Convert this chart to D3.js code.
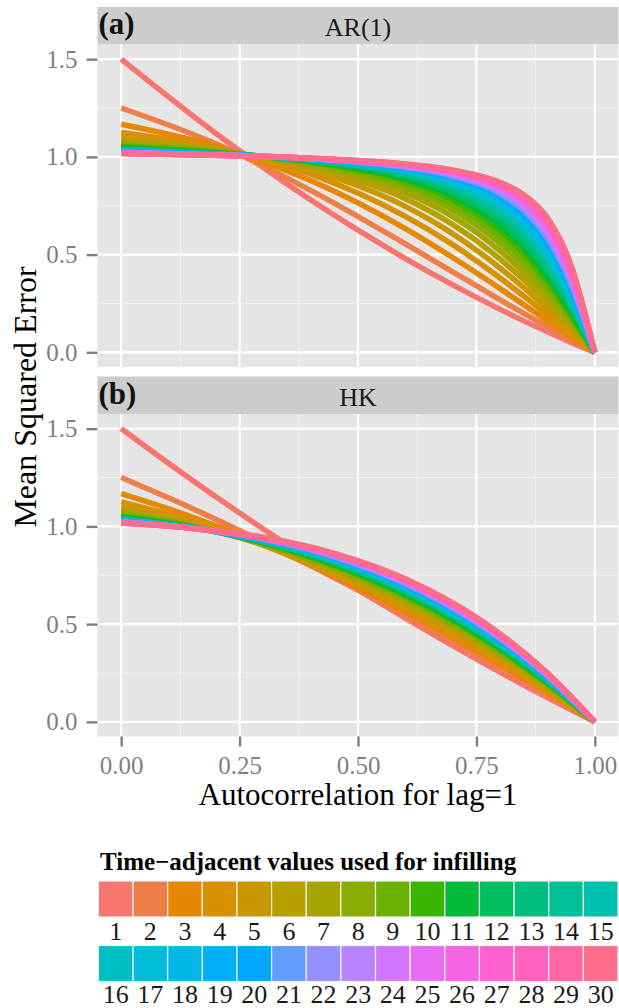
<!DOCTYPE html>
<html>
<head>
<meta charset="utf-8">
<script src="https://cdn.jsdelivr.net/npm/d3@7"></script>
<style>
  body { margin: 0; background: #fff; }
  text { font-family: "Liberation Serif", "Times New Roman", serif; }
</style>
</head>
<body>
<script>
// number of time-adjacent values used for infilling (one line each)
const lagCounts = [1, 2, 3, 4, 5, 6, 7, 8, 9, 10, 11, 12, 13, 14, 15,
  16, 17, 18, 19, 20, 21, 22, 23, 24, 25, 26, 27, 28, 29, 30];

// MSE read at lag-1 autocorrelation = 0 and = 1 (same in both panels)
const mseAt0 = [1.5, 1.25, 1.167, 1.125, 1.1, 1.083, 1.071, 1.063, 1.056, 1.05,
  1.045, 1.042, 1.038, 1.036, 1.033, 1.031, 1.029, 1.028, 1.026, 1.025,
  1.024, 1.023, 1.022, 1.021, 1.02, 1.019, 1.019, 1.018, 1.017, 1.017];
const mseAt1 = [0, 0, 0, 0, 0, 0, 0, 0, 0, 0, 0, 0, 0, 0, 0,
  0, 0, 0, 0, 0, 0, 0, 0, 0, 0, 0, 0, 0, 0, 0];

// (a) AR(1)
const arX = [0, 0.2, 0.4, 0.6, 0.7, 0.8, 0.85, 0.9, 0.95, 1];
const arAt020 = [1.120, 1.067, 1.054, 1.045, 1.039, 1.034, 1.030, 1.027, 1.024, 1.022,
  1.020, 1.019, 1.018, 1.016, 1.015, 1.015, 1.014, 1.013, 1.012, 1.012,
  1.011, 1.011, 1.010, 1.010, 1.010, 1.009, 1.009, 1.009, 1.008, 1.008];
const arAt040 = [0.780, 0.829, 0.879, 0.912, 0.934, 0.949, 0.958, 0.965, 0.971, 0.974,
  0.978, 0.980, 0.982, 0.984, 0.985, 0.986, 0.987, 0.988, 0.989, 0.989,
  0.990, 0.991, 0.991, 0.992, 0.992, 0.992, 0.993, 0.993, 0.993, 0.993];
const arAt060 = [0.480, 0.555, 0.633, 0.696, 0.747, 0.786, 0.816, 0.841, 0.860, 0.876,
  0.888, 0.899, 0.908, 0.915, 0.922, 0.927, 0.932, 0.936, 0.940, 0.943,
  0.946, 0.949, 0.952, 0.954, 0.956, 0.958, 0.959, 0.961, 0.962, 0.964];
const arAt070 = [0.345, 0.412, 0.485, 0.551, 0.607, 0.654, 0.694, 0.728, 0.756, 0.780,
  0.800, 0.818, 0.833, 0.846, 0.857, 0.867, 0.875, 0.883, 0.890, 0.896,
  0.901, 0.906, 0.911, 0.915, 0.919, 0.922, 0.925, 0.928, 0.931, 0.933];
const arAt080 = [0.220, 0.269, 0.326, 0.380, 0.431, 0.477, 0.519, 0.557, 0.591, 0.621,
  0.648, 0.673, 0.695, 0.715, 0.733, 0.749, 0.764, 0.777, 0.789, 0.800,
  0.810, 0.819, 0.827, 0.835, 0.842, 0.849, 0.855, 0.860, 0.865, 0.870];
const arAt085 = [0.161, 0.199, 0.244, 0.288, 0.331, 0.371, 0.408, 0.444, 0.476, 0.507,
  0.535, 0.561, 0.585, 0.607, 0.628, 0.647, 0.664, 0.681, 0.696, 0.710,
  0.723, 0.735, 0.746, 0.757, 0.767, 0.776, 0.784, 0.792, 0.800, 0.807];
const arAt090 = [0.105, 0.131, 0.161, 0.192, 0.223, 0.253, 0.282, 0.310, 0.337, 0.363,
  0.388, 0.412, 0.434, 0.456, 0.476, 0.496, 0.514, 0.532, 0.549, 0.565,
  0.580, 0.595, 0.608, 0.621, 0.634, 0.646, 0.657, 0.668, 0.678, 0.688];
const arAt095 = [0.051, 0.064, 0.079, 0.095, 0.112, 0.128, 0.144, 0.160, 0.176, 0.191,
  0.206, 0.221, 0.236, 0.251, 0.265, 0.279, 0.293, 0.306, 0.319, 0.332,
  0.345, 0.357, 0.370, 0.381, 0.393, 0.404, 0.416, 0.426, 0.437, 0.447];

// (b) HK
const hkX = [0, 0.15, 0.3, 0.45, 0.6, 0.75, 0.9, 1];
const hkAt015 = [1.236, 1.092, 1.048, 1.027, 1.016, 1.009, 1.004, 1.001, 0.998, 0.997,
  0.996, 0.995, 0.994, 0.993, 0.993, 0.992, 0.992, 0.992, 0.992, 0.992,
  0.991, 0.991, 0.991, 0.991, 0.991, 0.991, 0.991, 0.991, 0.991, 0.991];
const hkAt030 = [0.987, 0.920, 0.907, 0.904, 0.905, 0.907, 0.909, 0.911, 0.914, 0.916,
  0.918, 0.921, 0.923, 0.924, 0.926, 0.928, 0.929, 0.931, 0.932, 0.934,
  0.935, 0.936, 0.937, 0.938, 0.939, 0.940, 0.941, 0.942, 0.943, 0.944];
const hkAt045 = [0.752, 0.737, 0.745, 0.755, 0.765, 0.774, 0.782, 0.790, 0.796, 0.802,
  0.808, 0.812, 0.817, 0.821, 0.825, 0.829, 0.832, 0.835, 0.838, 0.841,
  0.843, 0.846, 0.848, 0.850, 0.853, 0.855, 0.857, 0.858, 0.860, 0.862];
const hkAt060 = [0.530, 0.544, 0.564, 0.581, 0.597, 0.610, 0.621, 0.631, 0.640, 0.648,
  0.656, 0.663, 0.669, 0.675, 0.680, 0.685, 0.689, 0.694, 0.698, 0.702,
  0.705, 0.709, 0.712, 0.715, 0.718, 0.721, 0.724, 0.727, 0.729, 0.732];
const hkAt075 = [0.321, 0.344, 0.365, 0.383, 0.398, 0.411, 0.422, 0.432, 0.441, 0.449,
  0.456, 0.463, 0.469, 0.475, 0.481, 0.486, 0.490, 0.495, 0.499, 0.503,
  0.507, 0.511, 0.514, 0.517, 0.521, 0.524, 0.527, 0.529, 0.532, 0.535];
const hkAt090 = [0.124, 0.139, 0.151, 0.161, 0.169, 0.176, 0.183, 0.189, 0.194, 0.198,
  0.203, 0.207, 0.210, 0.214, 0.217, 0.220, 0.223, 0.226, 0.228, 0.231,
  0.233, 0.235, 0.237, 0.239, 0.241, 0.243, 0.245, 0.247, 0.249, 0.250];

const xTicks = [0, 0.25, 0.5, 0.75, 1];
const yTicks = [0, 0.5, 1, 1.5];

const arCols = [mseAt0, arAt020, arAt040, arAt060, arAt070, arAt080, arAt085, arAt090, arAt095, mseAt1];
const hkCols = [mseAt0, hkAt015, hkAt030, hkAt045, hkAt060, hkAt075, hkAt090, mseAt1];

// ggplot-like hue palette (polar Luv, c = 100, l = 65)
function hueColor(h) {
  const L = 65, C = 100, rad = h * Math.PI / 180;
  const U = C * Math.cos(rad), V = C * Math.sin(rad);
  const un = 0.1978398, vn = 0.4683363;
  const Y = Math.pow((L + 16) / 116, 3);
  const u = U / (13 * L) + un, v = V / (13 * L) + vn;
  const X = 9 * Y * u / (4 * v);
  const Z = Y * (12 - 3 * u - 20 * v) / (4 * v);
  const lin = [3.240479 * X - 1.537150 * Y - 0.498535 * Z,
    -0.969256 * X + 1.875992 * Y + 0.041556 * Z,
    0.055648 * X - 0.204043 * Y + 1.057311 * Z];
  const g = c => {
    c = c <= 0.0031308 ? 12.92 * c : 1.055 * Math.pow(c, 1 / 2.4) - 0.055;
    return Math.round(255 * Math.max(0, Math.min(1, c)));
  };
  return d3.rgb(g(lin[0]), g(lin[1]), g(lin[2])).formatHex();
}
const colors = lagCounts.map((d, i) => hueColor(15 + 360 * i / lagCounts.length));

const w = 619, h = 1008;
const left = 97.5, right = 618.5;
const stripH = 37.5, plotH = 322.5;

const svg = d3.select("body").append("svg").attr("width", w).attr("height", h);
svg.append("rect").attr("width", w).attr("height", h).attr("fill", "#fff");

const x = d3.scaleLinear().domain([-0.05, 1.05]).range([left, right]);

const panels = [
  { tag: "(a)", name: "AR(1)", top: 7, xs: arX, cols: arCols },
  { tag: "(b)", name: "HK", top: 376.5, xs: hkX, cols: hkCols }
];

panels.forEach((p, pi) => {
  const y0 = p.top + stripH;
  const y = d3.scaleLinear().domain([-0.075, 1.575]).range([y0 + plotH, y0]);
  const g = svg.append("g");

  // strip
  g.append("rect").attr("x", left).attr("y", p.top).attr("width", right - left)
    .attr("height", stripH).attr("fill", "#CCCCCC");
  g.append("text").attr("x", (left + right) / 2).attr("y", p.top + 29)
    .attr("text-anchor", "middle").attr("font-size", 26).attr("fill", "#1a1a1a").text(p.name);
  g.append("text").attr("x", 98.5).attr("y", p.top + 27)
    .attr("font-size", 31).attr("font-weight", "bold").attr("fill", "#111").text(p.tag);

  // panel + grid
  g.append("rect").attr("x", left).attr("y", y0).attr("width", right - left)
    .attr("height", plotH).attr("fill", "#E5E5E5");
  [0.125, 0.375, 0.625, 0.875].forEach(v => {
    g.append("line").attr("x1", x(v)).attr("x2", x(v)).attr("y1", y0).attr("y2", y0 + plotH)
      .attr("stroke", "#F2F2F2").attr("stroke-width", 1.2);
  });
  [0.25, 0.75, 1.25].forEach(v => {
    g.append("line").attr("x1", left).attr("x2", right).attr("y1", y(v)).attr("y2", y(v))
      .attr("stroke", "#F2F2F2").attr("stroke-width", 1.2);
  });
  xTicks.forEach(v => {
    g.append("line").attr("x1", x(v)).attr("x2", x(v)).attr("y1", y0).attr("y2", y0 + plotH)
      .attr("stroke", "#fff").attr("stroke-width", 2.2);
  });
  yTicks.forEach(v => {
    g.append("line").attr("x1", left).attr("x2", right).attr("y1", y(v)).attr("y2", y(v))
      .attr("stroke", "#fff").attr("stroke-width", 2.2);
  });

  // lines, 1 first so 30 ends up on top
  const line = d3.line().x(d => x(d[0])).y(d => y(d[1])).curve(d3.curveMonotoneX);
  const series = lagCounts.map((k, i) => p.xs.map((xv, j) => [xv, p.cols[j][i]]));
  g.selectAll("path.mse").data(series).enter().append("path")
    .attr("class", "mse")
    .attr("d", line)
    .attr("fill", "none")
    .attr("stroke", (d, i) => colors[i])
    .attr("stroke-width", 5.5)
    .attr("stroke-linejoin", "round");

  // y axis
  const ya = g.append("g").attr("transform", `translate(${left},0)`)
    .call(d3.axisLeft(y).tickValues(yTicks).tickFormat(d3.format(".1f")).tickSize(11).tickPadding(9));
  ya.select(".domain").remove();
  ya.selectAll(".tick line").attr("stroke", "#7F7F7F").attr("stroke-width", 2.4);
  ya.selectAll(".tick text").attr("fill", "#7F7F7F").attr("font-size", 25);

  if (pi === 1) {
    const xa = g.append("g").attr("transform", `translate(0,${y0 + plotH})`)
      .call(d3.axisBottom(x).tickValues(xTicks).tickFormat(d3.format(".2f")).tickSize(10).tickPadding(10));
    xa.select(".domain").remove();
    xa.selectAll(".tick line").attr("stroke", "#7F7F7F").attr("stroke-width", 2.4);
    xa.selectAll(".tick text").attr("fill", "#7F7F7F").attr("font-size", 25);
  }
});

// axis titles
svg.append("text").attr("x", (left + right) / 2).attr("y", 805)
  .attr("text-anchor", "middle").attr("font-size", 31).text("Autocorrelation for lag=1");
svg.append("text").attr("transform", "translate(36,397) rotate(-90)")
  .attr("text-anchor", "middle").attr("font-size", 32).text("Mean Squared Error");

// legend
svg.append("text").attr("x", 100).attr("y", 870).attr("font-size", 25)
  .attr("font-weight", "bold").text("Time\u2212adjacent values used for infilling");
const kx0 = 98.4, kw = (618 - 98.4) / 15, kh = 36;
const rowTop = [881, 945.5], rowBase = [940, 1003];
const keys = svg.append("g").selectAll("g").data(lagCounts).enter().append("g");
keys.append("rect")
  .attr("x", (d, i) => kx0 + (i % 15) * kw)
  .attr("y", (d, i) => rowTop[Math.floor(i / 15)])
  .attr("width", kw).attr("height", kh)
  .attr("fill", (d, i) => colors[i])
  .attr("stroke", "#F2F2F2").attr("stroke-width", 1.2);
keys.append("text")
  .attr("x", (d, i) => kx0 + (i % 15) * kw + kw / 2)
  .attr("y", (d, i) => rowBase[Math.floor(i / 15)])
  .attr("text-anchor", "middle").attr("font-size", 26).attr("fill", "#1a1a1a")
  .text(d => d);
</script>
</body>
</html>
